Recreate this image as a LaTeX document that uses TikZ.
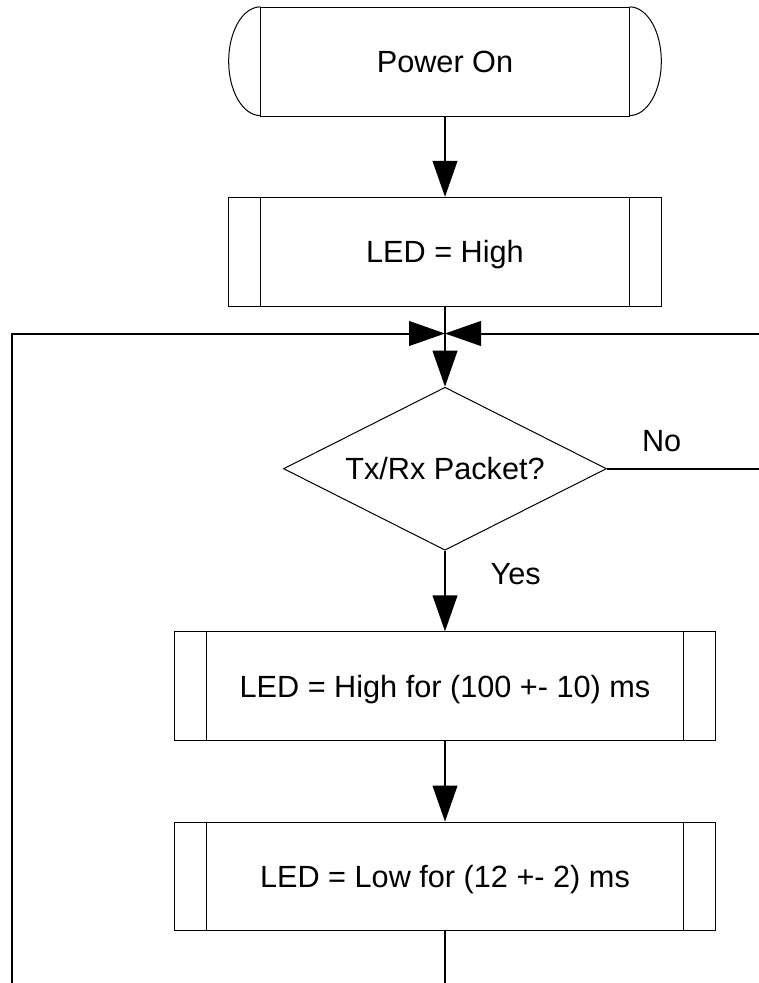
\documentclass[tikz,border=0pt]{standalone}
\usepackage{fontspec}
\setmainfont{Liberation Sans}
\usetikzlibrary{arrows.meta,shapes.geometric}

\newcommand{\chartfont}{\fontsize{23}{27}\selectfont}

\tikzset{every picture/.style={line width=0.75pt}}
\tikzset{
  procbox/.style={draw, rectangle, minimum width=#1, minimum height=81.5pt, inner sep=0pt, text depth=0pt, font=\chartfont,
    path picture={
      \draw ([xshift=24pt]path picture bounding box.north west) -- ([xshift=24pt]path picture bounding box.south west);
      \draw ([xshift=-24pt]path picture bounding box.north east) -- ([xshift=-24pt]path picture bounding box.south east);
    }},
  termbox/.style={draw, rectangle, minimum width=276.2pt, minimum height=81.5pt, inner sep=0pt, font=\chartfont},
  decisionbox/.style={draw, diamond, aspect=1.98, minimum width=242.25pt, minimum height=122.25pt, inner sep=0pt, text depth=0pt, font=\chartfont},
  flow/.style={line width=1.5pt, line join=miter},
  flowarrow/.style={flow, -{Triangle[length=27pt,width=18.5pt]}},
  branchlabel/.style={inner sep=0pt, font=\chartfont},
}

\begin{document}
\begin{tikzpicture}[x=0.75pt,y=0.75pt,yscale=-1,xscale=1]
\useasboundingbox (0,0) rectangle (759,983);
\clip (0,0) rectangle (759,983);

%Shape: Terminal
\node[termbox] (power) at (445,61.7) {Power On};
\draw (power.north west) arc[start angle=270, end angle=90, x radius=31.7, y radius=54.35];
\draw (power.north east) arc[start angle=270, end angle=450, x radius=31.7, y radius=54.35];
%Shape: Process
\node[procbox=324.75pt] (ledon) at (445,251.7) {LED = High};
%Shape: Decision
\node[decisionbox] (packet) at (445,468.7) {Tx/Rx Packet?};
%Shape: Process
\node[procbox=406.3pt] (ledhigh) at (445,686.2) {LED = High for (100 +- 10) ms};
%Shape: Process
\node[procbox=406.3pt] (ledlow) at (445,876.4) {LED = Low for (12 +- 2) ms};

% Corners of the loop
\coordinate (merge) at (445,333.5);
\coordinate (loopcorner) at (12,1010);
\coordinate (nocorner) at (790,333.5);

%Straight Lines
\draw[flowarrow] (power.south) -- (ledon.north);
\draw[flow] (ledon.south) -- (merge);
\draw[flowarrow] (merge) -- (packet.north);
\draw[flowarrow] (packet.south) -- (ledhigh.north);
\draw[flowarrow] (ledhigh.south) -- (ledlow.north);
\draw[flowarrow] (ledlow.south) |- (loopcorner) |- (merge);
\draw[flowarrow] (packet.east) -| (nocorner) -- (merge);

% Text Node
\node[branchlabel] (nolabel) at (661.7,441) {No};
% Text Node
\node[branchlabel] (yeslabel) at (515.7,574) {Yes};

\end{tikzpicture}
\end{document}
